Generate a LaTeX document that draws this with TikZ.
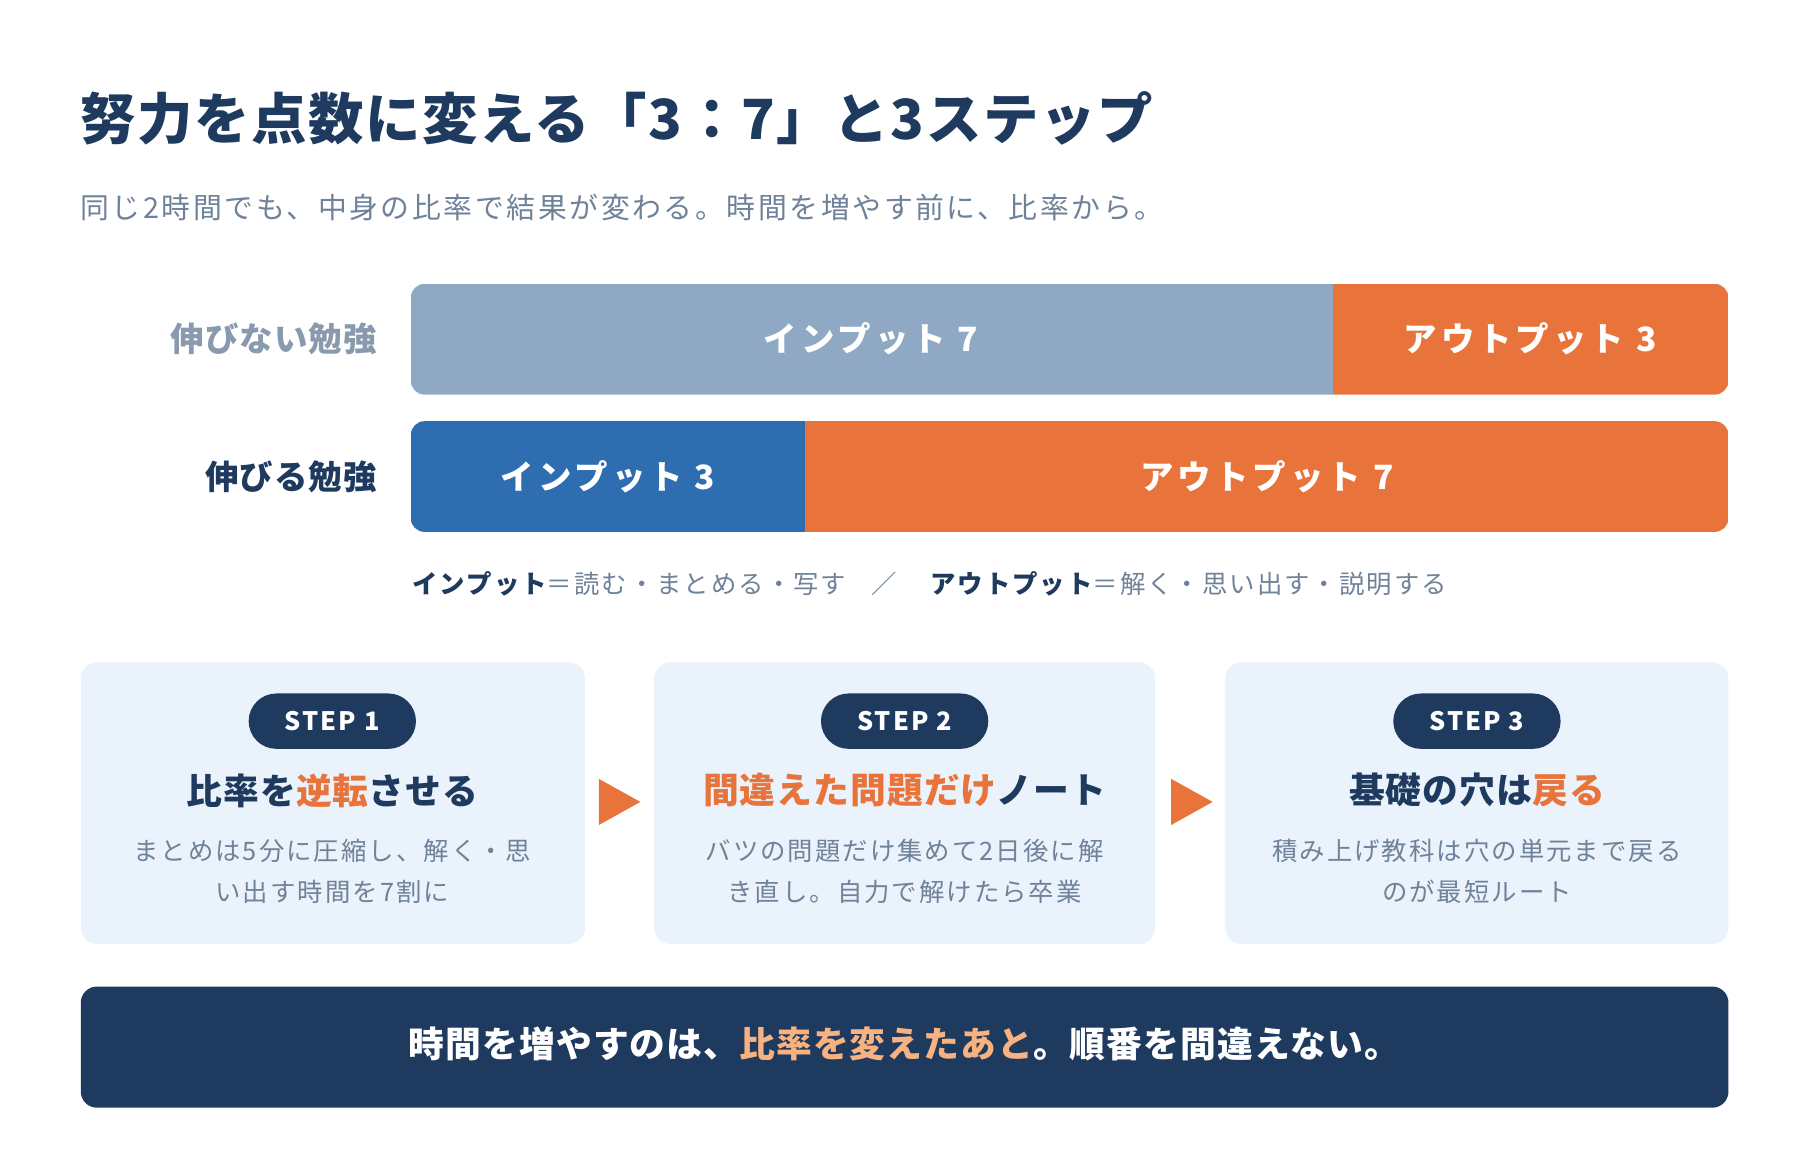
\documentclass[tikz,border=0pt]{standalone}
\usepackage{fontspec}
\setmainfont{Noto Sans CJK JP}
\definecolor{navy}{HTML}{1F3A5F}
\definecolor{sub}{HTML}{6F8299}
\definecolor{gbar}{HTML}{8FA9C4}
\definecolor{org}{HTML}{E8743B}
\definecolor{blu}{HTML}{2E6DB0}
\definecolor{boxf}{HTML}{EAF2FB}
\definecolor{lorg}{HTML}{F7B27F}
\definecolor{gl}{HTML}{8A9AAE}
\newcommand{\fsz}[2]{\fontsize{#1}{#2}\selectfont}
\newcommand{\spc}[1]{\addfontfeatures{LetterSpace=#1}}
\begin{document}
\begin{tikzpicture}[x=1pt,y=-1pt,
 bartxt/.style={text=white,font=\fsz{29}{29}\bfseries\spc{12}},
 stepbox/.style={fill=boxf,rounded corners=14},
 pill/.style={fill=navy,rounded corners=24,minimum width=145,minimum height=48,text=white,font=\bfseries\fsz{22}{22}\spc{8}},
 head/.style={font=\bfseries\fsz{31}{31}\spc{3},text=navy},
 body/.style={font=\fsz{22}{36}\spc{8},text=sub,align=center},
 tri/.style={fill=org}]
\useasboundingbox (0,0) rectangle (1560,1010);
\fill[white] (0,0) rectangle (1560,1010);
\node[anchor=west,text=navy,font=\bfseries\fsz{48}{48}\spc{3}] (title) at (66,103) {努力を点数に変える「3：7」と3ステップ};
\node[anchor=west,text=sub,font=\fsz{25}{25}\spc{9}] (subt) at (66,180) {同じ2時間でも、中身の比率で結果が変わる。時間を増やす前に、比率から。};
% bar 1
\begin{scope}
\clip[rounded corners=12] (356,246) rectangle (1498,342);
\fill[gbar] (356,246) rectangle (1155,342);
\fill[org] (1155,246) rectangle (1498,342);
\end{scope}
\node[bartxt] (a1) at (755,294) {インプット 7};
\node[bartxt] (a2) at (1326,294) {アウトプット 3};
\node[anchor=east,text=gl,font=\bfseries\fsz{29}{29}\spc{3}] (l1) at (330,294) {伸びない勉強};
% bar 2
\begin{scope}
\clip[rounded corners=12] (356,365) rectangle (1498,461);
\fill[blu] (356,365) rectangle (698,461);
\fill[org] (698,365) rectangle (1498,461);
\end{scope}
\node[bartxt] (b1) at (527,413) {インプット 3};
\node[bartxt] (b2) at (1098,413) {アウトプット 7};
\node[anchor=east,text=navy,font=\bfseries\fsz{29}{29}\spc{3}] (l2) at (330,413) {伸びる勉強};
\node[anchor=west,font=\fsz{22}{22}\spc{8},text=sub] (leg) at (354,506) {\textcolor{navy}{\bfseries インプット}＝読む・まとめる・写す\quad ／\quad\ \textcolor{navy}{\bfseries アウトプット}＝解く・思い出す・説明する};
% steps
\fill[stepbox] (70,574) rectangle (507,818);
\fill[stepbox] (567,574) rectangle (1001,818);
\fill[stepbox] (1062,574) rectangle (1498,818);
\node[pill] (p1) at (288,625) {STEP 1};
\node[pill] (p2) at (784,625) {STEP 2};
\node[pill] (p3) at (1280,625) {STEP 3};
\node[head] (h1) at (288,685) {比率を\textcolor{org}{逆転}させる};
\node[head] (h2) at (784,685) {\textcolor{org}{間違えた問題だけ}ノート};
\node[head] (h3) at (1280,685) {基礎の穴は\textcolor{org}{戻る}};
\node[body] (t1) at (288,755) {まとめは5分に圧縮し、解く・思\\い出す時間を7割に};
\node[body] (t2) at (784,755) {バツの問題だけ集めて2日後に解\\き直し。自力で解けたら卒業};
\node[body] (t3) at (1280,755) {積み上げ教科は穴の単元まで戻る\\のが最短ルート};
\fill[tri] (519,675) -- (555,695) -- (519,715) -- cycle;
\fill[tri] (1015,675) -- (1051,695) -- (1015,715) -- cycle;
% banner
\fill[navy,rounded corners=14] (70,855) rectangle (1498,960);
\node[text=white,font=\bfseries\fsz{31}{31}\spc{3}] (ban) at (784,905) {時間を増やすのは、\textcolor{lorg}{比率を変えたあと}。順番を間違えない。};
\end{tikzpicture}
\end{document}
